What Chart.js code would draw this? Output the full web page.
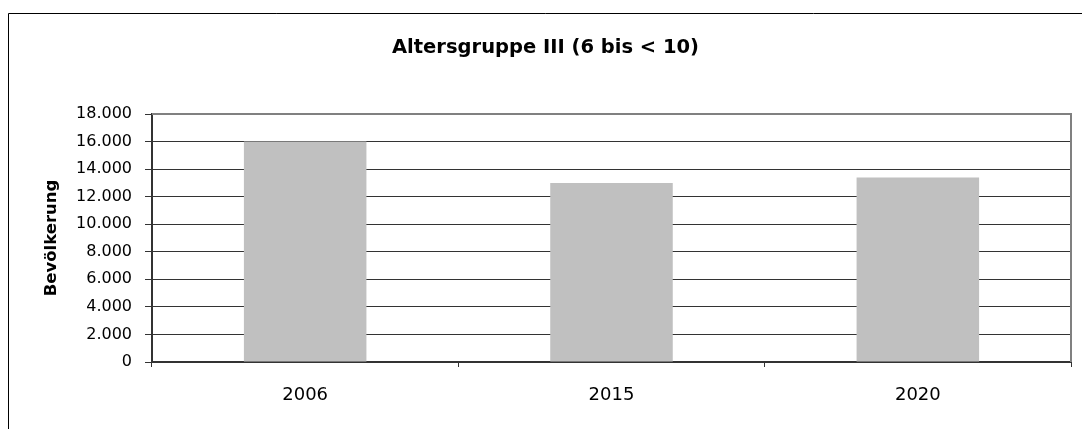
<!DOCTYPE html>
<html>
<head>
<meta charset="utf-8">
<script src="https://cdn.jsdelivr.net/npm/chart.js@4/dist/chart.umd.min.js"></script>
<style>
  body { margin: 0; background: #fff; }
  canvas { display: block; }
</style>
</head>
<body>
<canvas id="chart" width="1082" height="429"></canvas>
<script>
const years = ['2006', '2015', '2020'];
const population = [16000, 13000, 13400];
const yTicks = [0, 2000, 4000, 6000, 8000, 10000, 12000, 14000, 16000, 18000];

// German thousands separator, e.g. 18.000
const fmt = v => String(v).replace(/\B(?=(\d{3})+(?!\d))/g, '.');

// outer frame (left + top only visible) and grey plot border on top / right
const framePlugin = {
  id: 'frame',
  beforeDraw(chart) {
    const ctx = chart.ctx;
    ctx.save();
    ctx.fillStyle = '#fff';
    ctx.fillRect(0, 0, chart.width, chart.height);
    ctx.strokeStyle = '#000';
    ctx.lineWidth = 1;
    ctx.beginPath();
    ctx.moveTo(8.5, chart.height);
    ctx.lineTo(8.5, 13.5);
    ctx.lineTo(chart.width, 13.5);
    ctx.stroke();
    ctx.restore();
  },
  afterDatasetsDraw(chart) {
    const { ctx, chartArea: a } = chart;
    ctx.save();
    ctx.strokeStyle = '#808080';
    ctx.lineWidth = 2;
    ctx.beginPath();
    ctx.moveTo(a.left, a.top);
    ctx.lineTo(a.right, a.top);
    ctx.lineTo(a.right, a.bottom);
    ctx.stroke();
    ctx.restore();
  }
};

new Chart(document.getElementById('chart'), {
  type: 'bar',
  data: {
    labels: years,
    datasets: [{
      data: population,
      backgroundColor: '#c0c0c0',
      borderWidth: 0,
      barPercentage: 0.4,
      categoryPercentage: 1
    }]
  },
  options: {
    responsive: false,
    animation: false,
    layout: { padding: { left: 20, right: 11, top: 0, bottom: 0 } },
    plugins: {
      legend: { display: false },
      tooltip: { enabled: false },
      title: {
        display: true,
        text: 'Altersgruppe III (6 bis < 10)',
        color: '#000',
        font: { family: 'DejaVu Sans', size: 19.5, weight: 'bold', lineHeight: 1.2 },
        padding: { top: 36, bottom: 54.6 }
      }
    },
    scales: {
      x: {
        afterFit(scale) { scale.height = 67; },
        grid: {
          offset: true,
          drawOnChartArea: false,
          drawTicks: true,
          tickLength: 5,
          color: '#333'
        },
        border: { color: '#333', width: 2 },
        ticks: {
          color: '#000',
          padding: 18,
          font: { family: 'DejaVu Sans', size: 18 }
        }
      },
      y: {
        min: 0,
        max: 18000,
        afterFit(scale) { scale.width = 132; },
        afterBuildTicks(scale) { scale.ticks = yTicks.map(v => ({ value: v })); },
        grid: {
          color: '#333',
          tickLength: 7,
          drawTicks: true
        },
        border: { color: '#333', width: 2 },
        ticks: {
          color: '#000',
          padding: 13,
          font: { family: 'DejaVu Sans', size: 16 },
          callback: v => fmt(v)
        },
        title: {
          display: true,
          text: 'Bevölkerung',
          color: '#000',
          font: { family: 'DejaVu Sans', size: 16.5, weight: 'bold', lineHeight: 1.2 },
          padding: { top: 22, bottom: 0 }
        }
      }
    }
  },
  plugins: [framePlugin]
});
</script>
</body>
</html>
